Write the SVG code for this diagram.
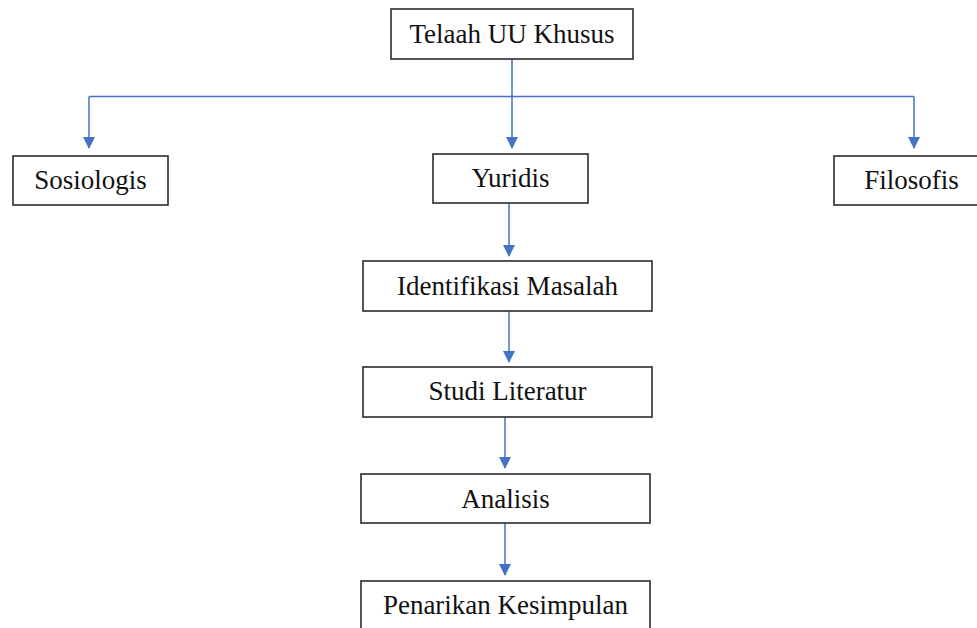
<svg xmlns="http://www.w3.org/2000/svg" width="977" height="628" viewBox="0 0 977 628">
<style>
.box{fill:#fff;stroke:#2b2b2b;stroke-width:1.6}
.lbl{font-family:"Liberation Serif","Times New Roman",serif;font-size:27px;fill:#111;text-anchor:middle}
.conn{fill:none;stroke:#4472C4;stroke-width:1.5}
</style>
<defs>
<marker id="arr" markerUnits="userSpaceOnUse" markerWidth="12" markerHeight="13" refX="11" refY="6" orient="auto">
<path d="M0,0 L12,6 L0,12 Z" fill="#4472C4"/>
</marker>
</defs>
<rect width="977" height="628" fill="#fff"/>
<g id="connectors">
<path class="conn" d="M512,59 V148" marker-end="url(#arr)"/>
<path class="conn" d="M89,96.5 H914"/>
<path class="conn" d="M89,96.5 V148" marker-end="url(#arr)"/>
<path class="conn" d="M914,96.5 V148" marker-end="url(#arr)"/>
<path class="conn" d="M509,203 V256" marker-end="url(#arr)"/>
<path class="conn" d="M509,311 V362" marker-end="url(#arr)"/>
<path class="conn" d="M505,417 V468" marker-end="url(#arr)"/>
<path class="conn" d="M505,523 V575" marker-end="url(#arr)"/>
</g>
<g id="telaah"><rect class="box" x="391" y="9" width="242" height="50"/><text class="lbl" x="512" y="43">Telaah UU Khusus</text></g>
<g id="sosiologis"><rect class="box" x="13" y="156" width="155" height="49"/><text class="lbl" x="90.5" y="189">Sosiologis</text></g>
<g id="yuridis"><rect class="box" x="433" y="154" width="155" height="49"/><text class="lbl" x="510.5" y="187">Yuridis</text></g>
<g id="filosofis"><rect class="box" x="834" y="156" width="155" height="49"/><text class="lbl" x="911.5" y="189">Filosofis</text></g>
<g id="identifikasi"><rect class="box" x="363" y="261" width="289" height="50"/><text class="lbl" x="507.5" y="295">Identifikasi Masalah</text></g>
<g id="studi"><rect class="box" x="363" y="367" width="289" height="50"/><text class="lbl" x="507.5" y="400">Studi Literatur</text></g>
<g id="analisis"><rect class="box" x="361" y="474" width="289" height="49"/><text class="lbl" x="505.5" y="508">Analisis</text></g>
<g id="penarikan"><rect class="box" x="361" y="581" width="289" height="60"/><text class="lbl" x="505.5" y="614">Penarikan Kesimpulan</text></g>
</svg>
